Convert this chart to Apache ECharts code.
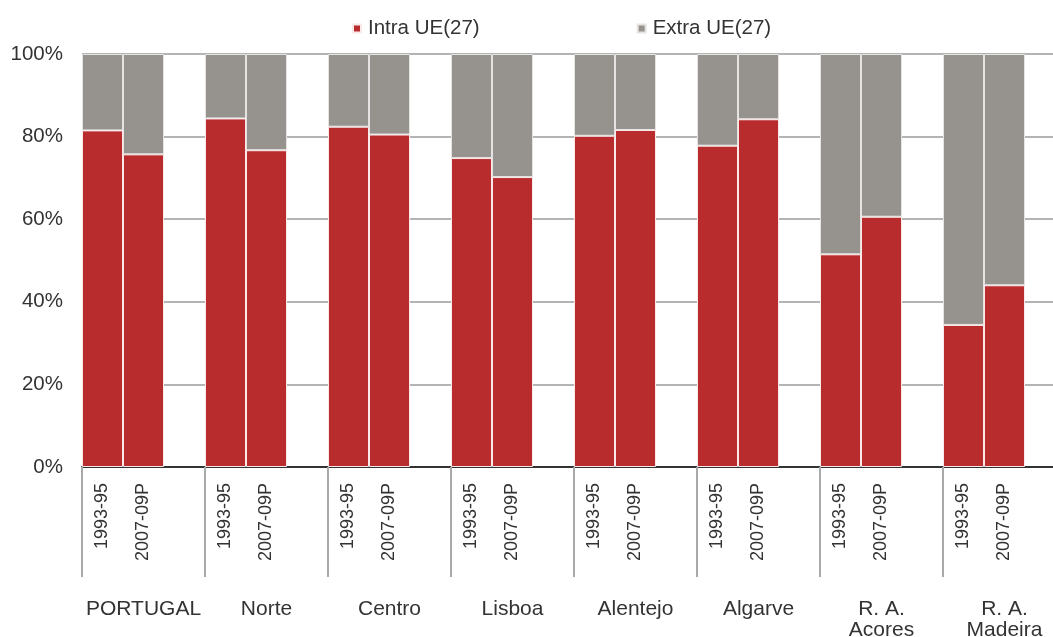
<!DOCTYPE html>
<html>
<head>
<meta charset="utf-8">
<script src="https://cdn.jsdelivr.net/npm/echarts@6/dist/echarts.min.js"></script>
<style>
  html, body { margin: 0; padding: 0; background: #fff; }
  #chart { width: 1053px; height: 637px; }
</style>
</head>
<body>
<div id="chart"></div>
<script>
// Regions and the two periods compared for each
const regions = ['PORTUGAL', 'Norte', 'Centro', 'Lisboa', 'Alentejo', 'Algarve', 'R. A.\nAcores', 'R. A.\nMadeira'];
const periods = ['1993-95', '2007-09P'];

// Share of exports going to the EU(27), % — first period, second period
const intra199395 = [81.5, 84.4, 82.4, 74.8, 80.2, 77.8, 51.5, 34.4];
const intra200709 = [75.7, 76.7, 80.5, 70.2, 81.6, 84.2, 60.6, 44.0];

const yTicks = [0, 20, 40, 60, 80, 100];
const seriesNames = ['Intra UE(27)', 'Extra UE(27)'];

const RED = '#b92c2d';
const GREY = '#96938f';
const FONT = '"Liberation Sans", Arial, sans-serif';

// Each region takes three slots on the axis: two bars and one empty gap
const slots = [];
const intraSlots = [];
const extraSlots = [];
regions.forEach((r, i) => {
  const pair = [intra199395[i], intra200709[i]];
  pair.forEach((v, j) => {
    slots.push(periods[j]);
    intraSlots.push(v);
    extraSlots.push(+(100 - v).toFixed(1));
  });
  slots.push('');
  intraSlots.push('-');
  extraSlots.push('-');
});

const chart = echarts.init(document.getElementById('chart'), null, { renderer: 'canvas' });

chart.setOption({
  animation: false,
  backgroundColor: '#fff',
  legend: {
    left: 347,
    top: 13,
    itemWidth: 8,
    itemHeight: 8,
    itemGap: 157,
    icon: 'rect',
    textStyle: { fontFamily: FONT, fontSize: 20.5, color: '#333', padding: [0, 0, 0, 2] },
    data: seriesNames
  },
  // the plot runs on past the right edge of the page, so the last group is cut off
  grid: {
    left: 82, right: -13, top: 54, bottom: 170,
    containLabel: false,
    outerBoundsMode: 'none'
  },
  xAxis: [
    {
      type: 'category',
      data: slots,
      boundaryGap: true,
      axisLine: { show: true, lineStyle: { color: '#333', width: 2 } },
      axisTick: { show: false },
      axisLabel: {
        interval: 0,
        rotate: 90,
        margin: 16,
        fontFamily: FONT,
        fontSize: 18,
        color: '#333'
      }
    },
    {
      type: 'category',
      position: 'bottom',
      data: regions,
      boundaryGap: true,
      axisLine: { show: false },
      axisTick: { show: true, length: 110, lineStyle: { color: '#a9a9a9', width: 2 } },
      axisLabel: {
        interval: 0,
        margin: 132,
        fontFamily: FONT,
        fontSize: 21,
        lineHeight: 21,
        color: '#333',
        align: 'center'
      }
    }
  ],
  yAxis: {
    type: 'value',
    min: yTicks[0],
    max: yTicks[yTicks.length - 1],
    interval: 20,
    axisLine: { show: false },
    axisTick: { show: false },
    splitLine: { show: true, lineStyle: { color: '#b4b4b4', width: 2 } },
    axisLabel: {
      margin: 19,
      fontFamily: FONT,
      fontSize: 20.5,
      color: '#333',
      formatter: '{value}%'
    }
  },
  series: [
    {
      name: seriesNames[0],
      type: 'bar',
      stack: 'share',
      xAxisIndex: 0,
      data: intraSlots,
      barCategoryGap: 0,
      itemStyle: { color: RED, borderColor: '#fbe9e9', borderWidth: 1 }
    },
    {
      name: seriesNames[1],
      type: 'bar',
      stack: 'share',
      xAxisIndex: 0,
      data: extraSlots,
      barCategoryGap: 0,
      itemStyle: { color: GREY, borderColor: '#e6e4e2', borderWidth: 1 }
    }
  ]
});
</script>
</body>
</html>
